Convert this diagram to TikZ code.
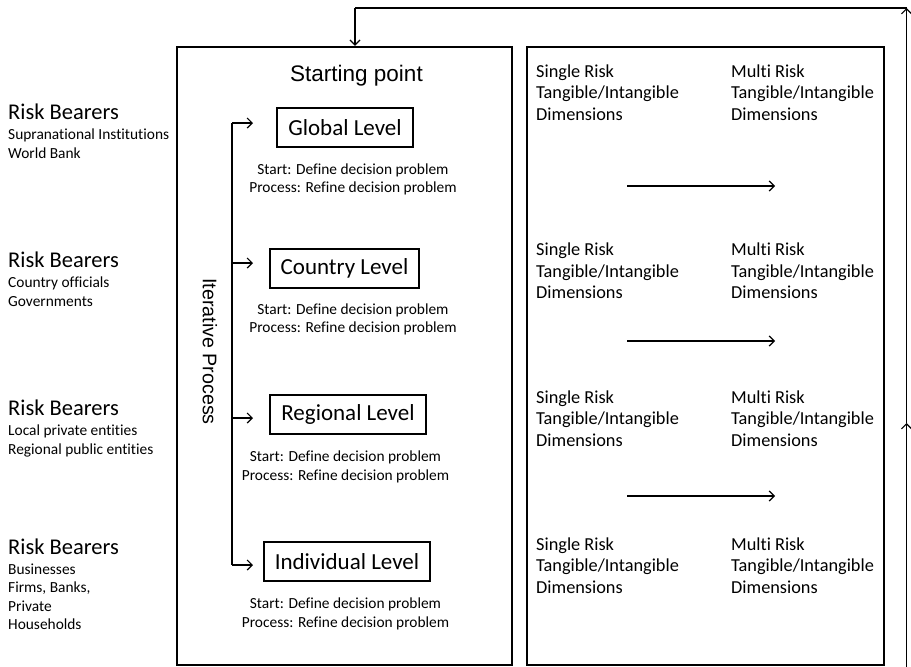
\documentclass[tikz,border=0pt]{standalone}
\usepackage{fontspec}
\setmainfont[Ligatures={NoCommon}]{Carlito}
\newfontfamily\arialf{Liberation Sans}
\usetikzlibrary{arrows.meta}
\tikzset{
  bigbox/.style={draw, line width=2.4pt, inner sep=0pt},
  lvlbox/.style={draw, line width=2pt, inner xsep=11pt, inner ysep=0pt, minimum height=39pt, font=\fontsize{23}{27}\selectfont},
  conn/.style={line width=1.3pt},
  tip/.style={-{Straight Barb[length=5pt,width=10pt,line width=1.2pt]}},
  rbtitle/.style={anchor=base west, inner sep=0pt, font=\fontsize{22.5}{27}\selectfont},
  rbsub/.style={anchor=base west, inner sep=0pt, font=\fontsize{15.4}{18}\selectfont},
  risktxt/.style={anchor=base west, inner sep=0pt, font=\fontsize{18.3}{21}\selectfont},
  proctxt/.style={anchor=base, inner sep=0pt, font=\fontsize{15.4}{18}\selectfont},
}
\begin{document}
\begin{tikzpicture}[x=1pt,y=-1pt]
\path[use as bounding box] (0,0) rectangle (911,667);

% main boxes
\node[bigbox, minimum width=335pt, minimum height=618pt] (lbox) at (344.5,356) {};
\node[bigbox, minimum width=357pt, minimum height=618pt] (rbox) at (705.5,356) {};

% feedback loop
\coordinate (fbB) at (906.5,667);
\coordinate (fbM) at (906.5,423);
\coordinate (fbT) at (906.5,8);
\coordinate (fbL) at (355,8);
\draw[conn,tip] (fbB) -- (fbM);
\draw[conn,tip] (fbM) -- (fbT);
\draw[conn] (fbT) -- (fbL);
\draw[conn,tip] (fbL) -- (lbox.north -| fbL);

% starting point and iterative process
\node[anchor=base, inner sep=0pt, font=\arialf\fontsize{22.5}{26}\selectfont] (start) at (356.5,81) {Starting point};
\node[rotate=-90, inner sep=0pt, font=\arialf\fontsize{19.7}{24}\selectfont] (iter) at (210,351.5) {Iterative Process};

% level boxes
\node[lvlbox] (glob) at (345,127.5) {Global Level};
\node[lvlbox] (coun) at (344.5,268.5) {Country Level};
\node[lvlbox] (regi) at (348,414) {Regional Level};
\node[lvlbox] (indi) at (347,561.5) {Individual Level};

% iterative connector
\coordinate (itG) at (232,123);
\coordinate (itC) at (232,263);
\coordinate (itR) at (232,418);
\coordinate (itI) at (232,565);
\coordinate (aG) at (253,123);
\coordinate (aC) at (253,263);
\coordinate (aR) at (253,418);
\coordinate (aI) at (253,565);
\draw[conn] (itG) -- (itI);
\draw[conn,tip] (itG) -- (aG);
\draw[conn,tip] (itC) -- (aC);
\draw[conn,tip] (itR) -- (aR);
\draw[conn,tip] (itI) -- (aI);

% process texts
\node[proctxt] (gs) at (353,174) {Start: Define decision problem};
\node[proctxt] (gp) at (353,192.7) {Process: Refine decision problem};
\node[proctxt] (cs) at (353,314) {Start: Define decision problem};
\node[proctxt] (cp) at (353,332.7) {Process: Refine decision problem};
\node[proctxt] (rs) at (345.5,461) {Start: Define decision problem};
\node[proctxt] (rp) at (345.5,480) {Process: Refine decision problem};
\node[proctxt] (is) at (345.5,608.3) {Start: Define decision problem};
\node[proctxt] (ip) at (345.5,627.5) {Process: Refine decision problem};

% risk bearers
\node[rbtitle] (rb1) at (8,119) {Risk Bearers};
\node[rbsub] (rb1a) at (8,139.5) {Supranational Institutions};
\node[rbsub] (rb1b) at (8,158) {World Bank};
\node[rbtitle] (rb2) at (8,267) {Risk Bearers};
\node[rbsub] (rb2a) at (8,287.5) {Country officials};
\node[rbsub] (rb2b) at (8,306) {Governments};
\node[rbtitle] (rb3) at (8,415) {Risk Bearers};
\node[rbsub] (rb3a) at (8,435.5) {Local private entities};
\node[rbsub] (rb3b) at (8,454) {Regional public entities};
\node[rbtitle] (rb4) at (8,554) {Risk Bearers};
\node[rbsub] (rb4a) at (8,574) {Businesses};
\node[rbsub] (rb4b) at (8,592.5) {Firms, Banks,};
\node[rbsub] (rb4c) at (8,611) {Private};
\node[rbsub] (rb4d) at (8,629.5) {Households};

% right column texts
\foreach \g/\b in {1/77, 2/255.5, 3/403, 4/550}{
  \node[risktxt] (s\g a) at (536,\b) {Single Risk};
  \node[risktxt] (s\g b) at (536,\b+21.5) {Tangible/Intangible};
  \node[risktxt] (s\g c) at (536,\b+43) {Dimensions};
  \node[risktxt] (m\g a) at (731,\b) {Multi Risk};
  \node[risktxt] (m\g b) at (731,\b+21.5) {Tangible/Intangible};
  \node[risktxt] (m\g c) at (731,\b+43) {Dimensions};
}

% right column arrows
\coordinate (r1a) at (627,186); \coordinate (r1b) at (775,186);
\coordinate (r2a) at (627,341); \coordinate (r2b) at (775,341);
\coordinate (r3a) at (627,496); \coordinate (r3b) at (775,496);
\draw[conn,tip] (r1a) -- (r1b);
\draw[conn,tip] (r2a) -- (r2b);
\draw[conn,tip] (r3a) -- (r3b);
\end{tikzpicture}
\end{document}
